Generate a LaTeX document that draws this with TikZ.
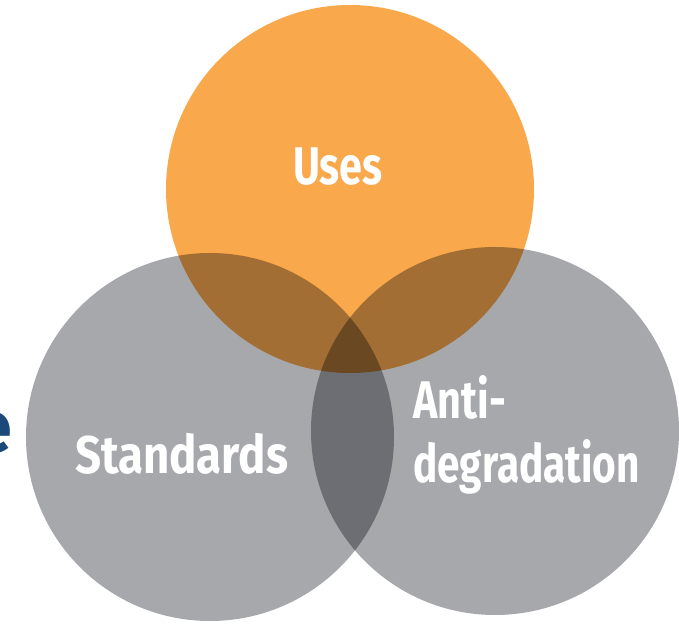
\documentclass[tikz,border=0pt]{standalone}
\usepackage{fontspec}
\setmainfont{Fira Sans}
\usetikzlibrary{positioning}

\definecolor{usesorange}{HTML}{F9A84C}
\definecolor{stdgray}{HTML}{A7A8AC}
\definecolor{titleblue}{HTML}{1B4A7A}
\newcommand{\narrow}[2][0.78]{\scalebox{#1}[1]{#2}}
\tikzset{
  setlabel/.style={text=white, font=\fontsize{53}{53}\selectfont\bfseries, inner sep=0pt, anchor=base west},
  venn/.style={fill=#1, draw=none}
}

\begin{document}
\begin{tikzpicture}[x=1pt, y=1pt]
\def\r{184}
\def\xu{350}; \def\yu{435};
\def\xs{210}; \def\ys{187};
\def\xa{495}; \def\ya{193};

\useasboundingbox (0,0) rectangle (679,624);

\node(uses) at (\xu, \yu) {};
\node(std) at (\xs, \ys) {};
\node(anti) at (\xa, \ya) {};

\begin{scope}[blend group=multiply]
\fill[venn=usesorange] (uses) circle (\r);
\fill[venn=stdgray] (std) circle (\r);
\fill[venn=stdgray] (anti) circle (\r);
\end{scope}

\node[text=titleblue, font=\fontsize{74}{74}\selectfont\bfseries, inner sep=0pt, anchor=base east](cut) at (13, 172) {e};

\node[setlabel](useslbl) at (293, 439) {\narrow{Uses}};
\node[setlabel](stdlbl) at (75, 151) {\narrow[0.86]{Standards}};
\node[setlabel](antilbl) at (413, 206) {\narrow{Anti-}};
\node[setlabel](deglbl) at (413, 142) {\narrow[0.765]{degradation}};

\end{tikzpicture}
\end{document}
